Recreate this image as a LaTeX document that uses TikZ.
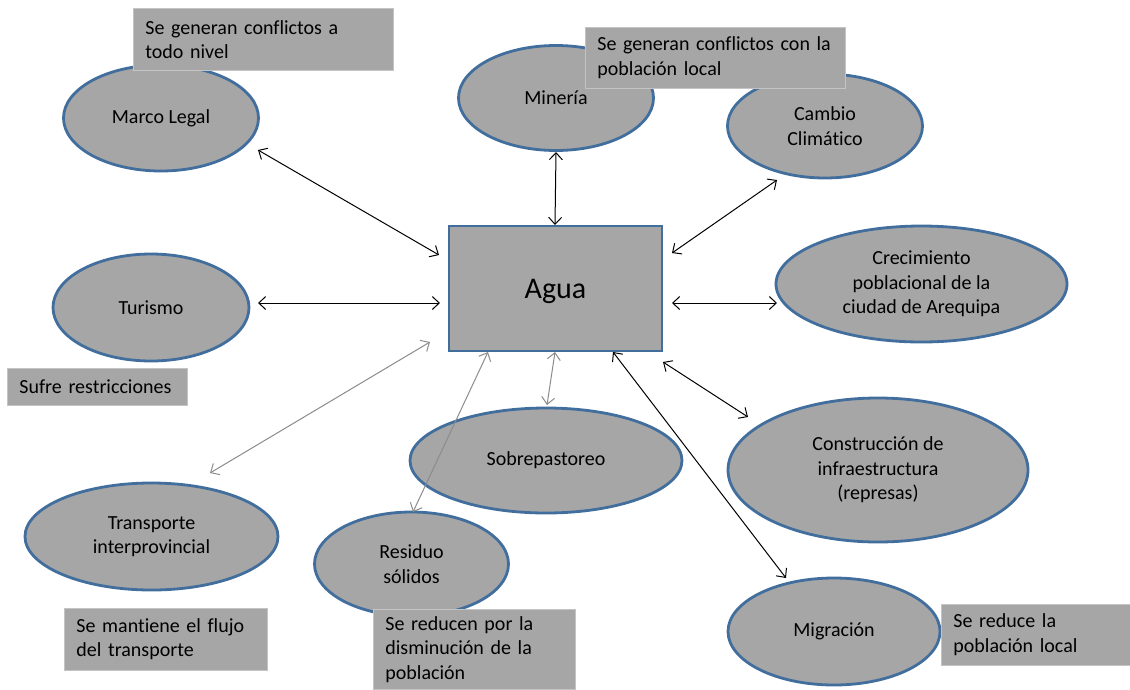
\documentclass[tikz,border=0pt]{standalone}
\usepackage{fontspec}
\setmainfont{Carlito}[Ligatures={NoCommon}]
\usetikzlibrary{shapes.geometric,arrows.meta,calc}
\definecolor{shapefill}{RGB}{166,166,166}
\definecolor{shapeedge}{RGB}{65,110,156}
\definecolor{notefill}{RGB}{166,166,166}
\definecolor{noteedge}{RGB}{196,196,196}
\definecolor{lightlink}{RGB}{140,140,140}

\begin{document}
\begin{tikzpicture}[x=1pt,y=-1pt,
  every node/.style={font=\fontsize{20}{24.5}\selectfont, text=black},
  oval/.style={ellipse, draw=shapeedge, line width=2.8pt, fill=shapefill,
    inner sep=0pt, align=center},
  note/.style={fill=notefill, draw=noteedge, line width=0.8pt, anchor=north west,
    align=left, inner xsep=12pt, inner ysep=0pt},
  link/.style={draw=black, line width=1pt,
    {Straight Barb[length=7pt,width=13pt]}-{Straight Barb[length=7pt,width=13pt]}},
  softlink/.style={link, draw=lightlink},
]
\fill[white] (0,0) rectangle (1130,689);
\useasboundingbox (0,0) rectangle (1130,689);

% surrounding factors
\node[oval, minimum width=195, minimum height=106] (marco) at (161,118) {Marco Legal};
\node[oval, minimum width=195, minimum height=105] (mineria) at (556,98) {Minería};
\node[oval, minimum width=195, minimum height=104] (cambio) at (825,126) {Cambio\\Climático};
\node[oval, minimum width=291, minimum height=116] (crec) at (921.5,284) {Crecimiento\\poblacional de la\\ciudad de Arequipa};
\node[oval, minimum width=196, minimum height=107] (turismo) at (151,307.5) {Turismo};
\node[oval, minimum width=272, minimum height=105] (sobre) at (546,460.5) {Sobrepastoreo};
\node[oval, minimum width=300, minimum height=144] (constr) at (878,470) {Construcción de\\infraestructura\\(represas)};
\node[oval, minimum width=253, minimum height=107] (transp) at (151.5,536.5) {Transporte\\interprovincial};
\node[oval, minimum width=194, minimum height=104] (residuo) at (411.5,564) {Residuo\\sólidos};
\node[oval, minimum width=212, minimum height=107] (migra) at (834,631.5) {Migración};

% central node
\node[draw=shapeedge, line width=2.8pt, fill=shapefill, minimum width=213, minimum height=125,
  inner sep=0pt, text depth=0pt, font=\fontsize{30}{36}\selectfont] (agua) at (555.5,288.5) {Agua};

% two-way links
\draw[link] ($(marco)+(97,32)$) -- ($(agua)+(-116.5,-33.5)$);
\draw[link] ($(mineria)+(0,54)$) -- ($(agua)+(-0.5,-63.5)$);
\draw[link] ($(cambio)+(-48,54)$) -- ($(agua)+(116.5,-35.5)$);
\draw[link] ($(crec)+(-144.5,19)$) -- ($(agua)+(116.5,14.5)$);
\draw[link] ($(turismo)+(107,-4.5)$) -- ($(agua)+(-115.5,14.5)$);
\draw[softlink] ($(transp)+(58.5,-63.5)$) -- ($(agua)+(-125.5,53.5)$);
\draw[softlink] ($(residuo)+(1.5,-52)$) -- ($(agua)+(-67.5,63.5)$);
\draw[softlink] ($(sobre)+(1,-55.5)$) -- ($(agua)+(-0.5,63.5)$);
\draw[link] ($(migra)+(-48,-53.5)$) -- ($(agua)+(57.5,63.5)$);
\draw[link] ($(constr)+(-130,-53)$) -- ($(agua)+(107.5,73.5)$);

% notes
\node[note, text width=236, minimum height=62] (n1) at (133,8) {Se generan conflictos a\\todo nivel};
\node[note, text width=236, minimum height=61] (n2) at (585,27) {Se generan conflictos con la\\población local};
\node[note, text width=156, minimum height=37] (n3) at (7,368) {Sufre restricciones};
\node[note, text width=179, minimum height=62] (n4) at (64,608) {Se mantiene el flujo\\del transporte};
\node[note, text width=178, minimum height=80] (n5) at (373,609) {Se reducen por la\\disminución de la\\población};
\node[note, text width=170, minimum height=61] (n6) at (941,604) {Se reduce la\\población local};
\end{tikzpicture}
\end{document}
